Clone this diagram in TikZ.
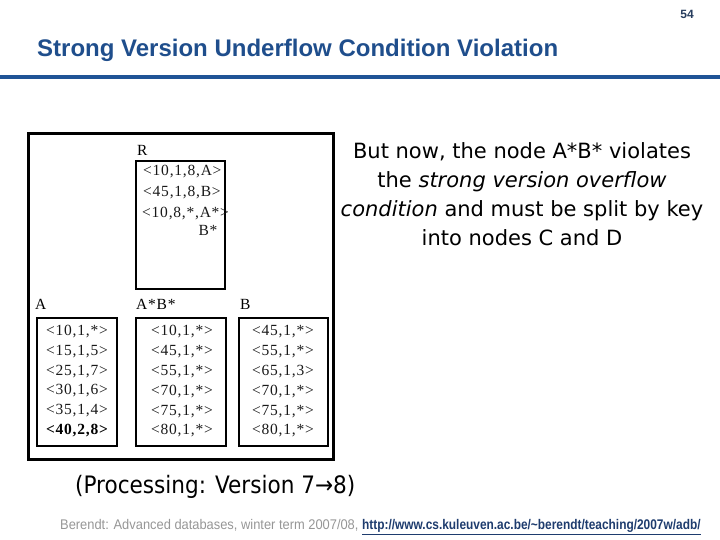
\documentclass[tikz,border=0pt]{standalone}
\usepackage{fontspec}
\setmainfont{Liberation Serif}
\newfontfamily\arialf{Liberation Sans}
\newfontfamily\narrowf[FakeStretch=0.92]{Liberation Sans}
\newfontfamily\narrowlf[FakeStretch=0.85]{Liberation Sans}
\newfontfamily\verdf{DejaVu Sans}
\newfontfamily\tahf{DejaVu Sans Condensed}
\newfontfamily\figf[LetterSpace=5]{Liberation Serif}
\definecolor{titleblue}{RGB}{31,78,140}
\definecolor{lineblue}{RGB}{32,84,150}
\definecolor{pgnum}{RGB}{40,62,95}
\definecolor{footgray}{RGB}{150,150,150}
\definecolor{linkblue}{RGB}{30,60,110}
\tikzset{
  figbox/.style={draw=black, line width=1.2pt, inner sep=0pt},
  figtxt/.style={font=\figf\fontsize{15.5}{17}\selectfont, inner sep=0pt, text=black!90},
  figlab/.style={font=\figf\fontsize{15.5}{17}\selectfont, inner sep=0pt, anchor=west},
}
\begin{document}
\begin{tikzpicture}[x=1pt,y=-1pt]
\useasboundingbox (0,0) rectangle (720,540);
% header
\node[font=\arialf\bfseries\fontsize{12}{14}\selectfont, text=pgnum, inner sep=0pt] (pagenum) at (687,14) {54};
\node[anchor=west, font=\arialf\bfseries\fontsize{24}{28}\selectfont, text=titleblue, inner sep=0pt] (title) at (37,50) {Strong Version Underflow Condition Violation};
\coordinate (lineL) at (0,77);
\coordinate (lineR) at (720,77);
\draw[line width=3.5pt, draw=lineblue] (lineL) -- (lineR);
% figure frame
\node[draw=black, line width=3pt, minimum width=305pt, minimum height=325pt, inner sep=0pt] (frame) at (181,296.5) {};
% R node
\node[figbox, minimum width=89pt, minimum height=128pt] (rbox) at (180.5,225) {};
\node[figlab] (rlab) at (137,150) {R};
\node[figtxt, anchor=west] (r1) at (143,172) {<10,1,8,A>};
\node[figtxt, anchor=west] (r2) at (143,193) {<45,1,8,B>};
\node[figtxt, anchor=west] (r3) at (142,214) {<10,8,*,A*>};
\node[figtxt] (r4) at (208,230) {B*};
% leaf labels
\node[figlab] (alab) at (35,304) {A};
\node[figlab] (ablab) at (136,304) {A*B*};
\node[figlab] (blab) at (240,304) {B};
% leaf boxes
\node[figbox, minimum width=80pt, minimum height=128pt] (leafa) at (77,382) {};
\node[figbox, minimum width=90pt, minimum height=128pt] (leafab) at (181,382) {};
\node[draw=black, line width=2pt, inner sep=0pt, minimum width=89pt, minimum height=128pt] (leafb) at (283,381.5) {};
% leaf entries
\foreach \t [count=\i] in {{<10,1,*>},{<15,1,5>},{<25,1,7>},{<30,1,6>},{<35,1,4>}}
  \node[figtxt] (a\i) at (77,{332+19.6*(\i-1)}) {\t};
\node[figtxt, font=\figf\bfseries\fontsize{15.5}{17}\selectfont, text=black] (a6) at (77,431) {<40,2,8>};
\foreach \t [count=\i] in {{<10,1,*>},{<45,1,*>},{<55,1,*>},{<70,1,*>},{<75,1,*>},{<80,1,*>}}
  \node[figtxt] (ab\i) at (182,{332+19.8*(\i-1)}) {\t};
\foreach \t [count=\i] in {{<45,1,*>},{<55,1,*>},{<65,1,3>},{<70,1,*>},{<75,1,*>},{<80,1,*>}}
  \node[figtxt] (b\i) at (283,{332+19.8*(\i-1)}) {\t};
% right text
\node[font=\verdf\fontsize{21}{29}\selectfont, align=center, inner sep=0pt] (note) at (522,194)
 {But now, the node A*B* violates\\the \textit{strong version overflow}\\\textit{condition} and must be split by key\\into nodes C and D};
% processing
\node[anchor=west, font=\tahf\fontsize{24}{27}\selectfont, inner sep=0pt] (proc) at (75,487) {(Processing: Version 7→8)};
% footer
\node[anchor=west, font=\narrowf\fontsize{14}{16}\selectfont, inner sep=0pt] (foot) at (60,527)
 {\textcolor{footgray}{Berendt: Advanced databases, winter term 2007/08,} \textcolor{linkblue}{\narrowlf\bfseries\underline{http://www.cs.kuleuven.ac.be/\textasciitilde berendt/teaching/2007w/adb/}}};
\end{tikzpicture}
\end{document}
